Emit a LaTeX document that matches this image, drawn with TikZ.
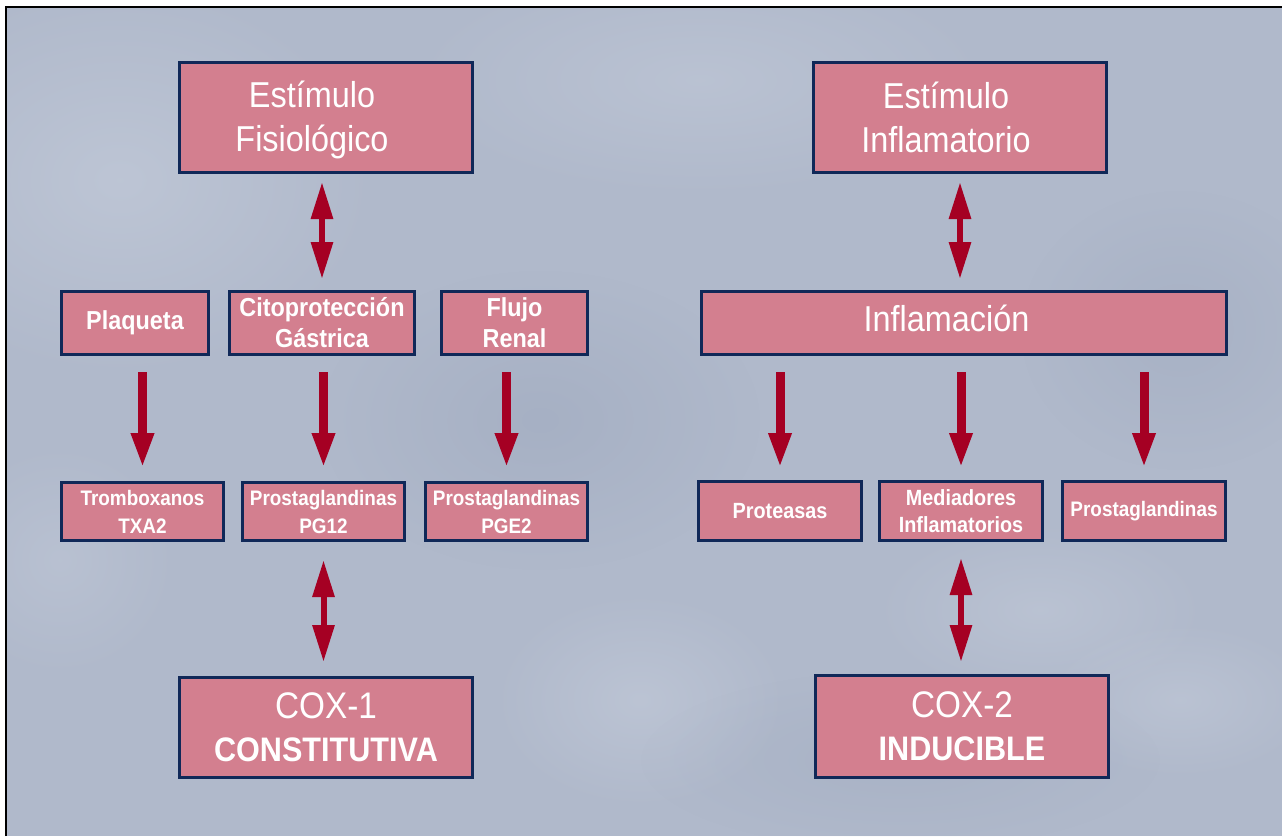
\documentclass[tikz,border=0pt]{standalone}
\usepackage{fontspec}
\setmainfont[FakeStretch=0.9]{Liberation Sans}
\usetikzlibrary{arrows.meta,fadings}
\definecolor{bgc}{RGB}{176,185,203}
\definecolor{bglight}{RGB}{205,212,225}
\definecolor{bgdark}{RGB}{148,160,183}
\definecolor{boxfill}{RGB}{211,127,143}
\definecolor{boxline}{RGB}{16,40,88}
\definecolor{arrred}{RGB}{165,0,35}
\tikzfading[name=softblob, inner color=transparent!0, outer color=transparent!100]
\begin{document}
\begin{tikzpicture}[x=1pt,y=-1pt,
  box/.style={draw=boxline, line width=3pt, fill=boxfill, inner sep=0pt, text=white, align=center},
  lbl/.style={text=white, align=center, inner sep=0pt},
  toptxt/.style={font=\bfseries\fontsize{26}{31}\selectfont},
  bottxt/.style={font=\bfseries\fontsize{21}{28}\selectfont},
  bottxtb/.style={font=\bfseries\fontsize{22}{27}\selectfont},
  bigtxt/.style={font=\fontsize{36}{44}\selectfont},
  coxtxt/.style={font=\fontsize{37}{43}\selectfont},
  blob/.style={path fading=softblob, fit fading=true},
  downarr/.style={draw=arrred, line width=9pt, -{Triangle[width=21pt,length=35pt,fill=arrred]}},
  dblarr/.style={draw=arrred, line width=6pt, {Triangle[width=21pt,length=37pt,fill=arrred]}-{Triangle[width=21pt,length=37pt,fill=arrred]}},
]
\useasboundingbox (0,0) rectangle (1282,836);
\fill[white] (0,0) rectangle (1282,836);
\fill[bgc] (6,7) rectangle (1282,836);
% soft background blobs
\begin{scope}
\clip (6,7) rectangle (1282,836);
\fill[bglight, opacity=0.45, blob] (120,180) ellipse (260 and 200);
\fill[bglight, opacity=0.35, blob] (700,80) ellipse (300 and 120);
\fill[bgdark, opacity=0.35, blob] (540,420) ellipse (220 and 150);
\fill[bgdark, opacity=0.30, blob] (1180,330) ellipse (160 and 140);
\fill[bglight, opacity=0.40, blob] (640,700) ellipse (150 and 110);
\fill[bglight, opacity=0.35, blob] (1040,610) ellipse (170 and 90);
\fill[bglight, opacity=0.35, blob] (1180,700) ellipse (140 and 80);
\fill[bgdark, opacity=0.25, blob] (900,760) ellipse (260 and 90);
\fill[bglight, opacity=0.30, blob] (60,560) ellipse (120 and 120);
\end{scope}
\draw[black, line width=1.5pt] (6,836) -- (6,7) -- (1282,7);

% top boxes
\node[box, minimum width=293pt, minimum height=110pt] (ef) at (326,117.5) {};
\node[lbl, bigtxt] (eft) at (312,119.5) {Estímulo\\Fisiológico};
\node[box, minimum width=293pt, minimum height=110pt] (ei) at (960,117.5) {};
\node[lbl, bigtxt] (eit) at (946,117) {Estímulo\\Inflamatorio};

% middle row
\node[box, toptxt, minimum width=147pt, minimum height=63pt] (plaq) at (135,323) {Plaqueta};
\node[box, toptxt, minimum width=185pt, minimum height=63pt] (cito) at (322,323) {Citoprotección\\Gástrica};
\node[box, toptxt, minimum width=146pt, minimum height=63pt] (flujo) at (514.5,323) {Flujo\\Renal};
\node[box, minimum width=525pt, minimum height=63pt] (infl) at (964,323) {};
\node[lbl, bigtxt, anchor=base] (inflt) at (946.5,331) {Inflamación};

% lower row
\node[box, bottxt, minimum width=162pt, minimum height=58pt] (trom) at (142.5,511.5) {Tromboxanos\\TXA2};
\node[box, bottxt, minimum width=162pt, minimum height=58pt] (pg12) at (323.5,511.5) {Prostaglandinas\\PG12};
\node[box, bottxt, minimum width=162pt, minimum height=58pt] (pge2) at (506.5,511.5) {Prostaglandinas\\PGE2};
\node[box, bottxtb, minimum width=163pt, minimum height=59pt] (prot) at (780,511) {Proteasas};
\node[box, bottxtb, minimum width=163pt, minimum height=59pt] (med) at (961,511) {Mediadores\\Inflamatorios};
\node[box, bottxt, minimum width=163pt, minimum height=59pt] (prosr) at (1144,511) {Prostaglandinas};

% COX boxes
\node[box, coxtxt, minimum width=293pt, minimum height=100pt] (cox1) at (326,727.5)
  {COX-1\\{\bfseries\fontsize{34}{43}\selectfont CONSTITUTIVA}};
\node[box, coxtxt, minimum width=293pt, minimum height=102pt] (cox2) at (962,726.5)
  {COX-2\\{\bfseries\fontsize{34}{43}\selectfont INDUCIBLE}};

% arrows
\draw[dblarr] ([yshift=-8pt]ef.south -| cito.north) -- ([yshift=11pt]cito.north);
\draw[dblarr] ([yshift=-8pt]ei.south) -- ([yshift=11pt]infl.north -| ei.south);
\draw[downarr] ([yshift=-16pt]plaq.south -| trom.north) -- ([yshift=13pt]trom.north);
\draw[downarr] ([yshift=-16pt]cito.south -| pg12.north) -- ([yshift=13pt]pg12.north);
\draw[downarr] ([yshift=-16pt]flujo.south -| pge2.north) -- ([yshift=13pt]pge2.north);
\draw[downarr] ([yshift=-16pt]infl.south -| prot.north) -- ([yshift=12pt]prot.north);
\draw[downarr] ([yshift=-16pt]infl.south -| med.north) -- ([yshift=12pt]med.north);
\draw[downarr] ([yshift=-16pt]infl.south -| prosr.north) -- ([yshift=12pt]prosr.north);
\draw[dblarr] ([yshift=-18pt]pg12.south) -- ([yshift=14pt]cox1.north -| pg12.south);
\draw[dblarr] ([yshift=-16pt]med.south) -- ([yshift=12pt]cox2.north -| med.south);
\end{tikzpicture}
\end{document}
